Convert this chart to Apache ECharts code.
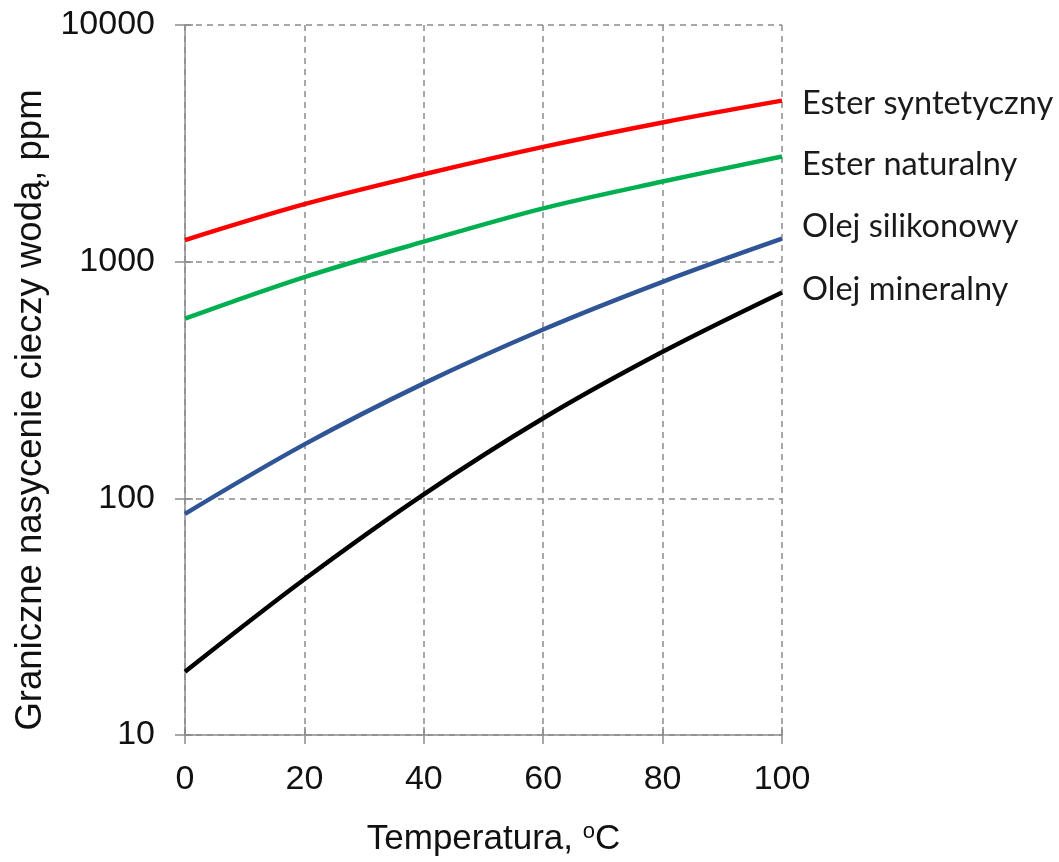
<!DOCTYPE html>
<html>
<head>
<meta charset="utf-8">
<script src="https://cdn.jsdelivr.net/npm/echarts@6/dist/echarts.min.js"></script>
<style>html,body{margin:0;padding:0;background:#fff}#c{width:1059px;height:862px}</style>
</head>
<body>
<div id="c"></div>
<script>
const temps = [0, 20, 40, 60, 80, 100];
const esterSyntetyczny = [1234, 1750, 2340, 3055, 3875, 4790];
const esterNaturalny = [574, 860, 1215, 1680, 2180, 2780];
const olejSilikonowy = [86, 169, 306, 517, 822, 1250];
const olejMineralny = [18.5, 45.5, 104, 218, 416, 741];
const xTicks = [0, 20, 40, 60, 80, 100];
const yTicks = [10, 100, 1000, 10000];

const seriesDefs = [
  {name: 'Ester syntetyczny', data: esterSyntetyczny, color: '#FF0000', dy: 3},
  {name: 'Ester naturalny', data: esterNaturalny, color: '#00B050', dy: 8},
  {name: 'Olej silikonowy', data: olejSilikonowy, color: '#2F5597', dy: -12},
  {name: 'Olej mineralny', data: olejMineralny, color: '#000000', dy: -3}
];

const axisGray = '#8c8c8c';
const chart = echarts.init(document.getElementById('c'));
chart.setOption({
  animation: false,
  backgroundColor: '#fff',
  grid: {left: 185, right: 277, top: 25, bottom: 127, containLabel: false},
  xAxis: [{
    type: 'value', min: 0, max: 100, interval: 20,
    name: 'Temperatura, {sup|o}C',
    nameLocation: 'middle', nameGap: 86,
    nameTextStyle: {fontFamily: 'Liberation Sans', fontSize: 35, color: '#111',
      padding: [0, 0, 0, 20],
      rich: {sup: {fontFamily: 'Liberation Sans', fontSize: 22, color: '#111', verticalAlign: 'top', padding: [0, 0, 14, 0]}}},
    axisLine: {show: true, lineStyle: {color: axisGray, width: 1.5}},
    axisTick: {show: true, length: 9, lineStyle: {color: axisGray, width: 1.5}},
    axisLabel: {fontFamily: 'Liberation Sans', fontSize: 34, color: '#111', margin: 28,
      formatter: v => xTicks.includes(v) ? String(v) : ''},
    splitLine: {show: true, lineStyle: {color: '#8c8c8c', width: 1.5, type: [6, 5]}}
  }, {
    type: 'value', min: 0, max: 100, interval: 20, position: 'bottom',
    axisLine: {show: false},
    axisTick: {show: true, inside: true, length: 8, lineStyle: {color: axisGray, width: 1.5}},
    axisLabel: {show: false}, splitLine: {show: false}
  }],
  yAxis: [{
    type: 'log', logBase: 10, min: 10, max: 10000,
    name: 'Graniczne nasycenie cieczy wodą, ppm',
    nameLocation: 'middle', nameGap: 130, nameRotate: 90,
    nameTextStyle: {fontFamily: 'Liberation Sans', fontSize: 36.5, color: '#111', padding: [0, 60, 0, 0]},
    axisLine: {show: true, lineStyle: {color: axisGray, width: 1.5}},
    axisTick: {show: true, length: 10, lineStyle: {color: axisGray, width: 1.5}},
    axisLabel: {fontFamily: 'Liberation Sans', fontSize: 34, color: '#111', margin: 30,
      formatter: v => yTicks.includes(Math.round(v)) ? String(Math.round(v)) : ''},
    splitLine: {show: true, lineStyle: {color: '#8c8c8c', width: 1.5, type: [6, 5]}},
    minorTick: {show: false}
  }, {
    type: 'log', logBase: 10, min: 10, max: 10000, position: 'left',
    axisLine: {show: false},
    axisTick: {show: true, inside: true, length: 8, lineStyle: {color: axisGray, width: 1.5}},
    axisLabel: {show: false}, splitLine: {show: false}
  }],
  series: seriesDefs.map(s => ({
    name: s.name,
    type: 'line',
    xAxisIndex: 0, yAxisIndex: 0,
    smooth: 0.35,
    showSymbol: false,
    symbol: 'none',
    data: temps.map((t, i) => [t, s.data[i]]),
    lineStyle: {color: s.color, width: 4.5},
    itemStyle: {color: s.color},
    endLabel: {
      show: true, formatter: s.name, distance: 20, offset: [0, s.dy],
      fontFamily: 'Lato', fontSize: 32.5, color: '#1a1a1a'
    },
    z: 3
  }))
});
</script>
</body>
</html>
